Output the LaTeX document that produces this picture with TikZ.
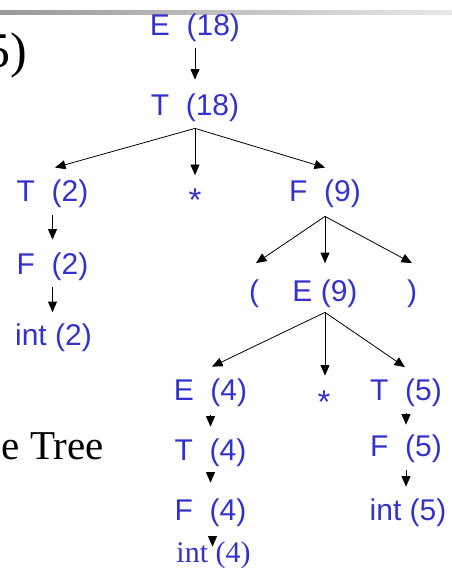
\documentclass[tikz,border=0pt]{standalone}
\usepackage{fontspec}
\setmainfont{Liberation Serif}
\setsansfont{Liberation Sans}
\usepackage{xcolor}
\usepackage{tikz}
\usetikzlibrary{arrows.meta}
\definecolor{AzulArbol}{RGB}{51,51,204}

\begin{document}
\begin{tikzpicture}[x=1pt,y=-1pt,>={Triangle[width=9pt,length=10.5pt]},
  simbolo/.style={text=AzulArbol,font=\sffamily\fontsize{30}{36}\selectfont,
    inner sep=0pt,text height=22pt,text depth=6.4pt},
  asterisco/.style={text=AzulArbol,font=\sffamily\fontsize{33}{40}\selectfont,
    inner sep=0pt,anchor=base},
  rama/.style={->,line width=0.8pt}]
  \useasboundingbox (0,0) rectangle (452,568);

  % Barra de la diapositiva
  \shade[left color=gray!80,right color=gray!18] (0,10) rectangle (452,14);
  \node[font=\rmfamily\fontsize{50}{60}\selectfont,inner sep=0pt,anchor=base east] (cinco) at (27,67) {5)};
  \node[font=\rmfamily\fontsize{41}{49}\selectfont,inner sep=0pt,anchor=base east] (arbol) at (104,459) {e Tree};

  % Raiz
  \node[simbolo] (e18) at (195,27.5) {E\ \ (18)};
  \node[simbolo] (t18) at (195,108) {T\ \ (18)};

  % Primer nivel
  \node[simbolo] (t2) at (52.5,194) {T\ \ (2)};
  \node[asterisco] (por1) at (195,211) {*};
  \node[simbolo] (f9) at (325,194) {F\ \ (9)};
  \node[simbolo] (f2) at (52.5,267) {F\ \ (2)};
  \node[simbolo] (int2) at (53.5,337.5) {int (2)};

  % Parentesis
  \node[simbolo] (abre) at (254,293.5) {(};
  \node[simbolo] (e9) at (325,293.5) {E (9)};
  \node[simbolo] (cierra) at (412,293.5) {)};

  % Nivel inferior
  \node[simbolo] (e4) at (210.5,393) {E\ \ (4)};
  \node[asterisco] (por2) at (324,413) {*};
  \node[simbolo] (t5) at (406,392.5) {T\ \ (5)};
  \node[simbolo] (t4) at (210.5,452.5) {T\ \ (4)};
  \node[simbolo] (f4) at (210.5,512.5) {F\ \ (4)};
  \node[simbolo,font=\rmfamily\fontsize{30}{36}\selectfont] (int4) at (213.5,554.5) {int (4)};
  \node[simbolo] (f5) at (406,449) {F\ \ (5)};
  \node[simbolo] (int5) at (408,512.5) {int (5)};

  % Ramas
  \draw[rama] ([yshift=-6pt]e18.south) -- ([yshift=14pt]t18.north);
  \draw[rama] ([yshift=-6pt]t18.south) -- ([xshift=2.5pt,yshift=12pt]t2.north);
  \draw[rama] ([yshift=-6pt]t18.south) -- ([yshift=13pt]por1.north);
  \draw[rama] ([yshift=-6pt]t18.south) -- ([yshift=12pt]f9.north);
  \draw[rama] ([yshift=-7pt]t2.south) -- ([yshift=13pt]f2.north);
  \draw[rama] ([yshift=-6pt]f2.south) -- ([xshift=-1pt,yshift=11pt]int2.north);
  \draw[rama] ([yshift=-8pt]f9.south) -- ([xshift=2pt,yshift=16pt]abre.north);
  \draw[rama] ([yshift=-8pt]f9.south) -- ([yshift=16pt]e9.north);
  \draw[rama] ([yshift=-8pt]f9.south) -- ([yshift=16pt]cierra.north);
  \draw[rama] ([yshift=-4.5pt]e9.south) -- ([xshift=1.5pt,yshift=12pt]e4.north);
  \draw[rama] ([yshift=-4.5pt]e9.south) -- ([xshift=1pt,yshift=14.5pt]por2.north);
  \draw[rama] ([yshift=-4.5pt]e9.south) -- ([xshift=-1pt,yshift=11pt]t5.north);
  \draw[rama] ([yshift=-8pt]e4.south) -- ([yshift=11.5pt]t4.north);
  \draw[rama] ([yshift=-5.5pt]t4.south) -- ([yshift=15.5pt]f4.north);
  \draw[rama] ([xshift=2pt,yshift=-10pt]f4.south) -- ([xshift=-1pt,yshift=-6.5pt]int4.north);
  \draw[rama] ([yshift=-6.5pt]t5.south) -- ([yshift=10pt]f5.north);
  \draw[rama] ([yshift=-7pt]f5.south) -- ([xshift=-2pt,yshift=11.5pt]int5.north);
\end{tikzpicture}
\end{document}
